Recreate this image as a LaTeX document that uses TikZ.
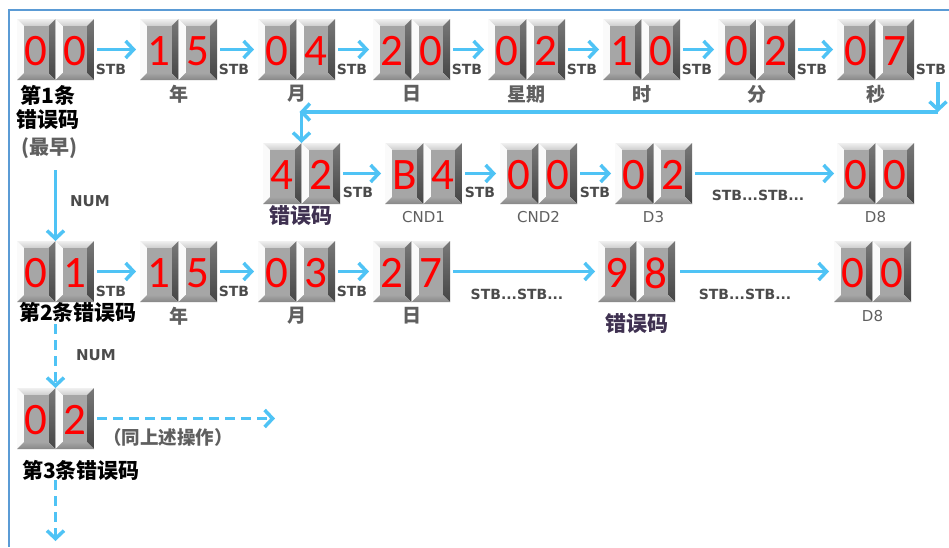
\documentclass[tikz,border=0pt]{standalone}
\usepackage{fontspec}
\setmainfont{Carlito}
\newfontfamily\cjk{Noto Sans CJK SC}
\newfontfamily\lblfont{DejaVu Sans}
\usetikzlibrary{arrows.meta,calc}
\definecolor{arrowblue}{RGB}{79,195,245}
\definecolor{frameblue}{RGB}{91,155,213}
\definecolor{lblgray}{RGB}{75,75,75}
\definecolor{cngray}{RGB}{95,95,95}
\definecolor{codepurple}{RGB}{63,49,81}
\definecolor{bvtopA}{RGB}{240,240,240}
\definecolor{bvtopB}{RGB}{205,205,205}
\definecolor{bvleftc}{RGB}{250,250,250}
\definecolor{bvrightA}{RGB}{120,120,120}
\definecolor{bvrightB}{RGB}{70,70,70}
\definecolor{bvbotA}{RGB}{165,165,165}
\definecolor{bvbotB}{RGB}{135,135,135}
\definecolor{facec}{RGB}{166,166,166}
\tikzset{
  arr/.style={draw=arrowblue, line width=3.5pt, -{Straight Barb[length=8pt,width=17pt]}},
  darr/.style={arr, dash pattern=on 10pt off 6pt},
  digit/.style={font=\fontsize{45}{45}\selectfont, text=red, inner sep=0pt},
  stblbl/.style={font=\lblfont\bfseries\fontsize{14}{14}\selectfont, text=lblgray, inner sep=0pt},
  reglbl/.style={font=\lblfont\fontsize{15}{15}\selectfont, text=cngray, inner sep=0pt},
  cnlbl/.style={font=\cjk\bfseries\fontsize{19}{19}\selectfont, text=cngray, inner sep=0pt},
  bklbl/.style={font=\cjk\bfseries\fontsize{21}{21}\selectfont, text=black, inner sep=0pt},
  pulbl/.style={font=\cjk\bfseries\fontsize{21}{21}\selectfont, text=codepurple, inner sep=0pt},
  pairnode/.style={minimum width=77pt, minimum height=61pt, inner sep=0pt, outer sep=0pt},
}
\newcommand\dbox[4]{%
  \begin{scope}[shift={(#1,#2)}]
    \shade[top color=bvtopA, bottom color=bvtopB] (0,0) -- (38.5,0) -- (31.5,7) -- (7,7) -- cycle;
    \fill[bvleftc] (0,0) -- (7,7) -- (7,54) -- (0,61) -- cycle;
    \shade[top color=bvrightA, bottom color=bvrightB] (38.5,0) -- (38.5,61) -- (31.5,54) -- (31.5,7) -- cycle;
    \shade[top color=bvbotA, bottom color=bvbotB] (0,61) -- (38.5,61) -- (31.5,54) -- (7,54) -- cycle;
    \fill[facec] (7,7) rectangle (31.5,54);
    \node[digit] (#4) at (19.25,32) {#3};
  \end{scope}}
\newcommand\pairbox[5]{%
  \dbox{#2}{#3}{#4}{#1a}
  \dbox{#2+38.5}{#3}{#5}{#1b}
  \node[pairnode] (#1) at (#2+38.5,#3+30.5) {};}
\begin{document}
\begin{tikzpicture}[x=1pt,y=-1pt]
\useasboundingbox (0,0) rectangle (949,547);
\fill[white] (0,0) rectangle (949,547);
\draw[frameblue, line width=2pt] (949,10) -- (9,10) -- (9,547);

% row 1
\pairbox{a1}{17}{19}{0}{0}
\pairbox{a2}{140}{19}{1}{5}
\pairbox{a3}{258}{19}{0}{4}
\pairbox{a4}{373}{19}{2}{0}
\pairbox{a5}{488}{19}{0}{2}
\pairbox{a6}{603}{19}{1}{0}
\pairbox{a7}{718}{19}{0}{2}
\pairbox{a8}{837}{19}{0}{7}
\foreach \p/\q in {a1/a2,a2/a3,a3/a4,a4/a5,a5/a6,a6/a7,a7/a8}
  \draw[arr, shorten <=3pt, shorten >=4pt] (\p) -- (\q);
\foreach \p in {a1,a2,a3,a4,a5,a6,a7,a8}
  \node[stblbl] (s\p) at ($(\p.east)+(17,20)$) {STB};
\node[cnlbl] (la2) at ($(a2.south)+(0,14)$) {年};
\node[cnlbl] (la3) at ($(a3.south)+(0,14)$) {月};
\node[cnlbl] (la4) at ($(a4.south)+(0,14)$) {日};
\node[cnlbl] (la5) at ($(a5.south)+(0,14)$) {星期};
\node[cnlbl] (la6) at ($(a6.south)+(0,14)$) {时};
\node[cnlbl] (la7) at ($(a7.south)+(0,14)$) {分};
\node[cnlbl] (la8) at ($(a8.south)+(0,14)$) {秒};
\node[bklbl] (la1) at (48,95) {第1条};
\node[bklbl] (la1b) at (48,120) {错误码};
\node[cnlbl, font=\cjk\bfseries\fontsize{20}{20}\selectfont] (la1c) at (49,148) {(最早)};

% return path
\coordinate (t1) at (938,82);
\coordinate (t2) at (938,112);
% row 2
\pairbox{b1}{263}{143}{4}{2}
\pairbox{b2}{385}{143}{B}{4}
\pairbox{b3}{500}{143}{0}{0}
\pairbox{b4}{615}{143}{0}{2}
\pairbox{b5}{837}{143}{0}{0}
\coordinate (t3) at (b1.north |- t2);
\draw[arr] (t1) -- (t2);
\draw[arr, shorten >=-2pt] (t2) -- (t3);
\draw[arr] (t3) -- (b1.north);
\foreach \p/\q in {b1/b2,b2/b3,b3/b4}
  \draw[arr, shorten <=3pt, shorten >=4pt] (\p) -- (\q);
\draw[arr, shorten <=3pt, shorten >=3pt] (b4) -- (b5);
\foreach \p in {b1,b2,b3}
  \node[stblbl] (s\p) at ($(\p.east)+(18,19)$) {STB};
\node[stblbl] (sb4) at (758,195) {STB...STB...};
\node[pulbl] (lb1) at (301,216) {错误码};
\node[reglbl] (lb2) at ($(b2.south)+(0,13)$) {CND1};
\node[reglbl] (lb3) at ($(b3.south)+(0,13)$) {CND2};
\node[reglbl] (lb4) at ($(b4.south)+(0,13)$) {D3};
\node[reglbl] (lb5) at ($(b5.south)+(0,13)$) {D8};

% row 3
\pairbox{c1}{17}{241}{0}{1}
\pairbox{c2}{140}{241}{1}{5}
\pairbox{c3}{258}{241}{0}{3}
\pairbox{c4}{373}{241}{2}{7}
\pairbox{c5}{598}{241}{9}{8}
\pairbox{c6}{834}{241}{0}{0}
\foreach \p/\q in {c1/c2,c2/c3,c3/c4}
  \draw[arr, shorten <=3pt, shorten >=4pt] (\p) -- (\q);
\draw[arr, shorten <=3pt, shorten >=3pt] (c4) -- (c5);
\draw[arr, shorten <=5pt, shorten >=5pt] (c5) -- (c6);
\foreach \p in {c1,c2,c3}
  \node[stblbl] (s\p) at ($(\p.east)+(17,20)$) {STB};
\node[stblbl] (sc4) at (517,294) {STB...STB...};
\node[stblbl] (sc5) at (745,294) {STB...STB...};
\node[bklbl] (lc1) at (78,312) {第2条错误码};
\node[cnlbl] (lc2) at ($(c2.south)+(0,14)$) {年};
\node[cnlbl] (lc3) at ($(c3.south)+(0,14)$) {月};
\node[cnlbl] (lc4) at ($(c4.south)+(0,14)$) {日};
\node[pulbl] (lc5) at (637,324) {错误码};
\node[reglbl] (lc6) at ($(c6.south)+(0,14)$) {D8};

% row 4
\pairbox{d1}{17}{388}{0}{2}
\coordinate (r4) at (275,418.5);
\coordinate (dn) at (55.5,541);
\draw[darr, shorten <=3pt] (d1) -- (r4);
\node[cnlbl, font=\cjk\bfseries\fontsize{18.5}{18.5}\selectfont] (ld1) at (168,437) {（同上述操作）};
\node[bklbl] (ld2) at (81,470) {第3条错误码};

% vertical links
\draw[arr, shorten <=90pt] (a1.south) -- (c1.north);
\node[stblbl, font=\lblfont\bfseries\fontsize{15}{15}\selectfont] (n1) at (90,201) {NUM};
\draw[darr, shorten <=22pt] (c1.south) -- (d1.north);
\node[stblbl, font=\lblfont\bfseries\fontsize{15}{15}\selectfont] (n2) at (96,355) {NUM};
\draw[darr, shorten <=31pt] (d1.south) -- (dn);
\end{tikzpicture}
\end{document}
